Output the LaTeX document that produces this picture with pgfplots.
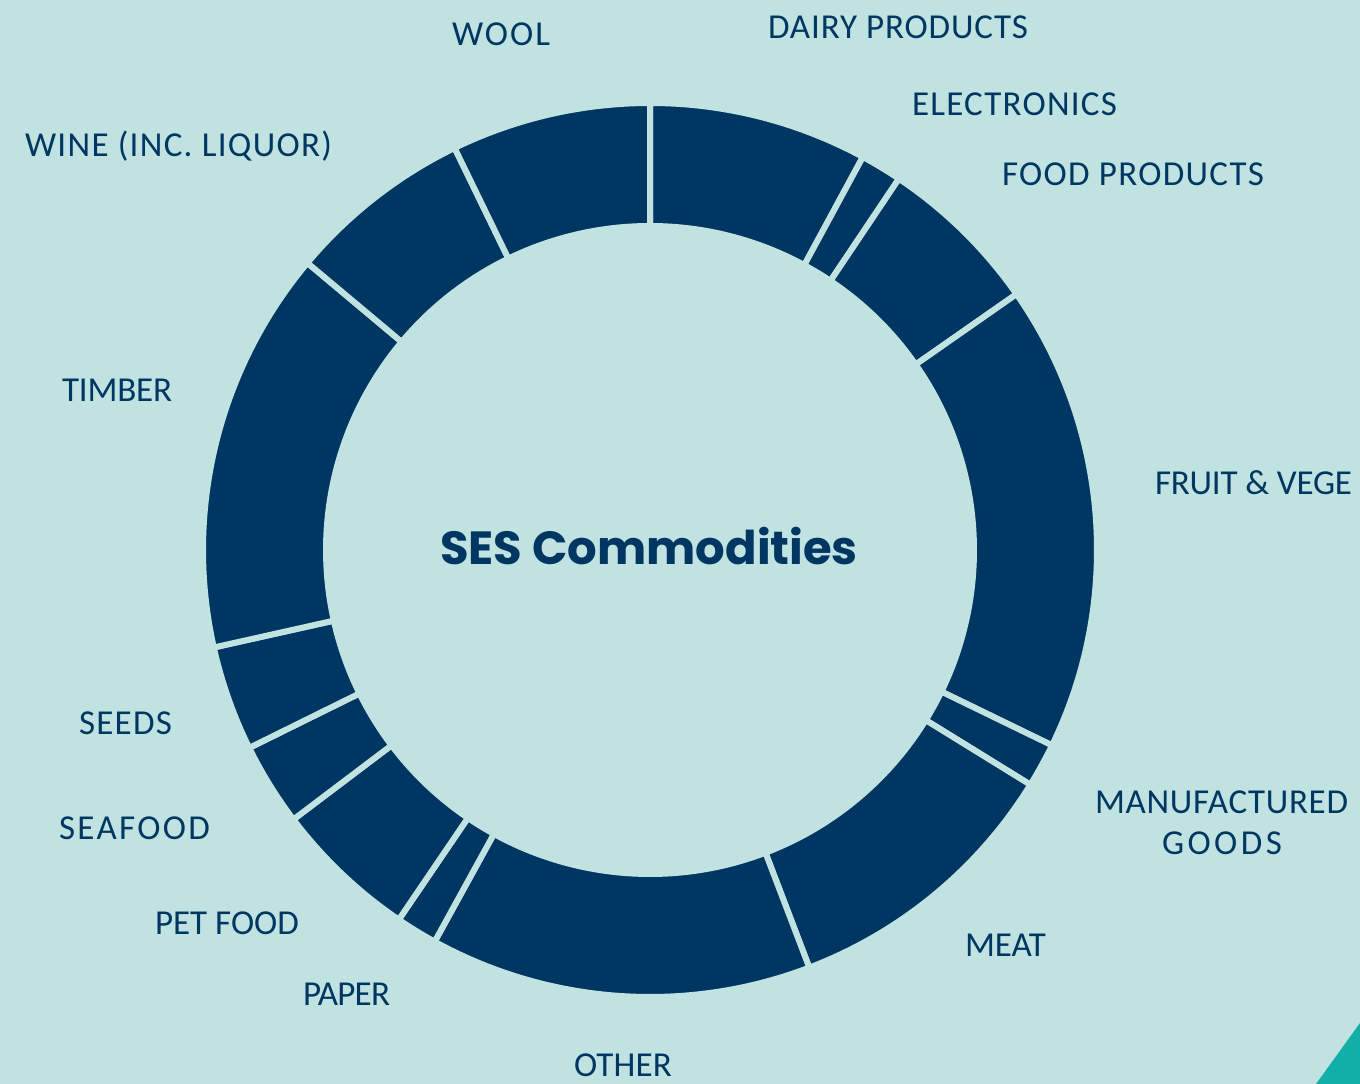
\documentclass[border=0pt]{standalone}
\usepackage{pgfplots}
\pgfplotsset{compat=1.18}
\usepackage{pgfplotstable}
\usepackage{fontspec}
\setmainfont{Carlito}
\newfontfamily\labfam{Carlito}
\newfontfamily\titlefam{Poppins}
\definecolor{bg}{HTML}{C0E2E1}
\definecolor{navy}{HTML}{003762}
\definecolor{cornerteal}{HTML}{12AFA9}

\pgfplotstableread{
commodity share
Dairy 7.9
Electronics 1.5
Food 5.9
FruitVege 16.9
Manufactured 1.6
Meat 10.4
Other 13.8
Paper 1.5
PetFood 5.2
Seafood 3.0
Seeds 3.8
Timber 14.6
Wine 6.7
Wool 7.2
}\commodities

\def\cum{0}
\pgfplotsforeachungrouped \i in {0,...,13}{%
  \pgfplotstablegetelem{\i}{share}\of\commodities
  \let\v\pgfplotsretval
  \pgfmathsetmacro\sa{90-3.6*\cum}%
  \pgfmathsetmacro\cum{\cum+\v}%
  \pgfmathsetmacro\sb{90-3.6*\cum}%
  \expandafter\xdef\csname segA\i\endcsname{\sa}%
  \expandafter\xdef\csname segB\i\endcsname{\sb}%
}

\newlength\labw
\newcommand\labfont{\labfam\fontsize{35}{42}\selectfont}
\newcommand\lab[3]{%
  \settowidth\labw{\labfont #3}%
  \pgfmathsetmacro\ls{(#1-\labw)/(#2-1)/35*100}%
  \labfont\edef\tmp{\noexpand\addfontfeature{LetterSpace=\ls}}\tmp #3}

\begin{document}
\begin{tikzpicture}
\begin{axis}[x=1pt,y=1pt,xmin=0,xmax=1360,ymin=0,ymax=1084,hide axis,clip=false]
\fill[bg] (axis cs:0,0) rectangle (axis cs:1360,1084);
\addplot[fill=cornerteal, draw=none] coordinates {(1316,0) (1360,61) (1360,0) (1316,0)};
\pgfplotsinvokeforeach{0,...,13}{
  \filldraw[fill=navy, draw=bg, line width=6pt]
    (axis cs:650,534) ++({\csname segA#1\endcsname}:447pt)
    arc[start angle={\csname segA#1\endcsname}, end angle={\csname segB#1\endcsname}, radius=447pt]
    -- ++({\csname segB#1\endcsname}:-123pt)
    arc[start angle={\csname segB#1\endcsname}, end angle={\csname segA#1\endcsname}, radius=324pt]
    -- cycle;
}
\node[anchor=base, inner sep=0, text=navy] at (axis cs:649,519) {\titlefam\bfseries\fontsize{46.5}{56}\selectfont SES Commodities};
\begin{scope}[every node/.style={anchor=base west, inner sep=0, outer sep=0, text=navy}]
\node at (axis cs:452,1038) {\lab{98}{4}{WOOL}};
\node at (axis cs:768,1045) {\lab{260}{13}{DAIRY PRODUCTS}};
\node at (axis cs:912,968) {\lab{205}{11}{ELECTRONICS}};
\node at (axis cs:1002,898) {\lab{262}{12}{FOOD PRODUCTS}};
\node at (axis cs:1155,589) {\lab{197}{10}{FRUIT \& VEGE}};
\node at (axis cs:1095,270) {\lab{253}{12}{MANUFACTURED}};
\node at (axis cs:1162,229) {\lab{120}{5}{GOODS}};
\node at (axis cs:965,127) {\lab{81}{4}{MEAT}};
\node at (axis cs:574,7) {\lab{98}{5}{OTHER}};
\node at (axis cs:303,78) {\lab{87}{5}{PAPER}};
\node at (axis cs:155,149) {\lab{144}{7}{PET FOOD}};
\node at (axis cs:59,244) {\lab{151}{7}{SEAFOOD}};
\node at (axis cs:79,349) {\lab{93}{5}{SEEDS}};
\node at (axis cs:62,682) {\lab{110}{6}{TIMBER}};
\node at (axis cs:25,927) {\lab{307}{16}{WINE (INC. LIQUOR)}};
\end{scope}
\end{axis}
\end{tikzpicture}
\end{document}
